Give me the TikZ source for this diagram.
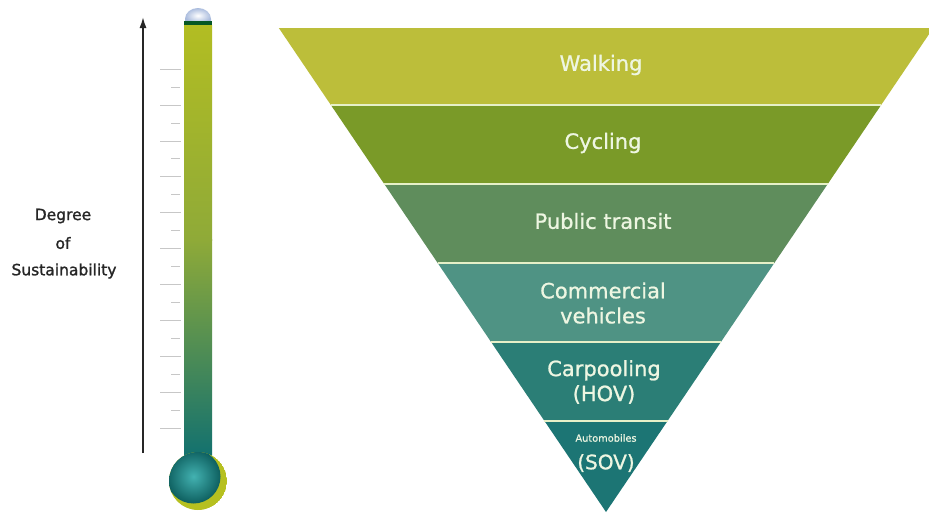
\documentclass[tikz,border=0pt]{standalone}
\usepackage{fontspec}
\setmainfont{DejaVu Sans}
\newfontfamily\labelfont{DejaVu Sans}[FakeBold=0.9]
\newfontfamily\sidefont{DejaVu Sans}[FakeBold=1.3]
\usetikzlibrary{arrows.meta}
\begin{document}
\begin{tikzpicture}[x=1pt,y=-1pt,
  bandtext/.style={text=bandfg,font=\labelfont\fontsize{21}{25}\selectfont,align=center},
  sidetext/.style={text=black!85,font=\sidefont\fontsize{15.5}{18}\selectfont},
  sep/.style={draw=sepline,line width=1.6pt},
  tick/.style={draw=black!22,line width=0.6pt}]
\definecolor{bandA}{HTML}{BCBE3A}
\definecolor{bandB}{HTML}{7A9A28}
\definecolor{bandC}{HTML}{5F8D5C}
\definecolor{bandD}{HTML}{4F9384}
\definecolor{bandE}{HTML}{2B7E76}
\definecolor{bandF}{HTML}{1C7574}
\definecolor{bandfg}{HTML}{EEF6E2}
\definecolor{sepline}{HTML}{E6F0C8}
\definecolor{tubetop}{HTML}{B2BD22}
\definecolor{tubemid}{HTML}{8FAA38}
\definecolor{tubebot}{HTML}{107070}
\definecolor{glass}{HTML}{A9BBDD}
\useasboundingbox (0,0) rectangle (929,512);
\fill[white] (0,0) rectangle (929,512);

% ---- inverted pyramid ----
\begin{scope}
\clip (0,0) rectangle (929,512);
% band corner coordinates: apex (606,512), half-width 0.676 per unit of height
\foreach \ya/\yb/\col in {28/105/bandA,105/184/bandB,184/263/bandC,263/342/bandD,342/421/bandE,421/512/bandF}{
  \fill[\col] ({606-0.676*(512-\ya)},\ya) -- ({606+0.676*(512-\ya)},\ya)
     -- ({606+0.676*(512-\yb)},\yb) -- ({606-0.676*(512-\yb)},\yb) -- cycle;
}
\foreach \y in {105,184,263,342,421}{
  \draw[sep] ({606-0.676*(512-\y)},\y) -- ({606+0.676*(512-\y)},\y);
}
\end{scope}
\node[bandtext] (walk) at (601,65) {Walking};
\node[bandtext] (cycl) at (603,143) {Cycling};
\node[bandtext] (pubt) at (603,221) {Public transit};
\node[bandtext] (comm) at (603,303) {Commercial\\vehicles};
\node[bandtext] (carp) at (604,382) {Carpooling\\(HOV)};
\node[bandtext,font=\labelfont\fontsize{9.8}{12}\selectfont] (auto) at (606,438) {Automobiles};
\node[bandtext,font=\labelfont\fontsize{20}{24}\selectfont] (sov) at (606,463) {(SOV)};

% ---- sustainability scale ----
\node[sidetext] (deg) at (63,216) {Degree};
\node[sidetext] (of) at (63,243) {of};
\node[sidetext] (sus) at (64,271) {Sustainability};
\coordinate (arrlo) at (143,453);
\coordinate (arrhi) at (143,17);
\draw[line width=1.6pt,black!85,-{Latex[length=11pt,width=7pt]}] (arrlo) -- (arrhi);

% tick marks beside the tube
\foreach \k in {0,...,20}{
  \pgfmathsetmacro{\yy}{69+17.95*\k}
  \ifodd\k
    \draw[tick] (171,\yy) -- (180,\yy);
  \else
    \draw[tick] (160,\yy) -- (181,\yy);
  \fi
}

% ---- thermometer ----
% glass cap
\shade[inner color=white,outer color=glass] (185,23) -- (185,19) arc (180:360:13 and 11) -- (211,23) -- cycle;
\fill[tubebot!40!black!80!green] (184,21) rectangle (212,25.5);
% tube
\shade[top color=tubetop,bottom color=tubemid] (184,25) rectangle (212,240);
\shade[top color=tubemid,bottom color=tubebot] (184,239.5) rectangle (212,460);
% bulb
\coordinate (bulb) at (198,481);
\begin{scope}
\clip (bulb) circle (29);
\fill[tubetop!95!yellow] (bulb) circle (29);
\shade[inner color=bandF!70!cyan!80!white,outer color=tubebot!85!black] (193.5,476.5) circle (27);
\end{scope}
\end{tikzpicture}
\end{document}
